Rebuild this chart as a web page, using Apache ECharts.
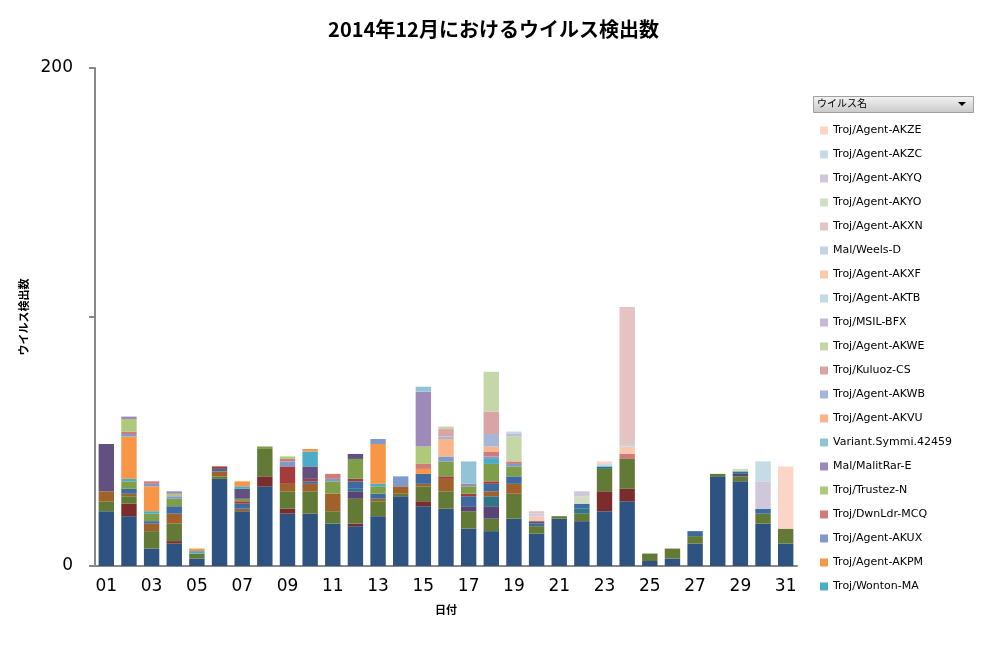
<!DOCTYPE html>
<html>
<head>
<meta charset="utf-8">
<script src="https://cdn.jsdelivr.net/npm/echarts@6/dist/echarts.min.js"></script>
<style>
  body { margin: 0; background: #fff; }
  #chart { width: 987px; height: 648px; }
</style>
</head>
<body>
<div id="chart"></div>
<script>
// 日付
const days = ['01','02','03','04','05','06','07','08','09','10','11','12','13','14','15','16',
              '17','18','19','20','21','22','23','24','25','26','27','28','29','30','31'];

// 凡例に出ない下位のウイルス (スタック下から)
const b1  = [22,20,7,9,3,35,22,32,21,21,17,16,20,28,24,23,15,14,19,13,19,18,22,26,2,3,9,36,34,17,9];
const b2  = [0,5,0,1,0,0,0,4,2,0,0,1,0,0,2,0,0,0,0,0,0,0,8,5,0,0,0,0,0,0,0];
const b3  = [4,3,7,7,2,1,0,11,7,9,5,10,6,1,6,7,7,5,10,3,1,3,9,12,3,4,3,1,2,4,6];
const b4  = [0,0,0,0,0,0,0,0,0,0,0,3,0,0,0,0,2,5,0,0,0,0,0,0,0,0,0,0,1,0,0];
const b5  = [0,0,0,0,0,0,0,0,0,0,0,1,0,0,0,0,0,4,0,0,0,2,1,0,0,0,0,0,1,0,0];
const b6  = [4,1,3,4,0,2,1,0,3,3,7,0,1,3,1,5,0,2,4,0,0,0,0,0,0,0,0,0,0,0,0];
const b7  = [0,2,1,3,0,1,2,0,0,1,0,3,2,0,4,0,4,3,3,1,0,2,0,0,0,0,2,0,0,2,0];
const b8  = [0,0,0,0,0,1,1,0,7,1,0,1,0,0,0,1,1,1,0,0,0,0,0,0,0,0,0,0,0,0,0];
const b9  = [0,3,3,3,0,0,1,1,0,0,5,8,3,0,0,6,3,7,4,0,0,0,0,0,0,0,0,0,0,0,0];
const b10 = [19,0,0,0,0,0,4,0,0,5,0,2,0,0,0,0,0,0,0,1,0,0,0,0,0,0,0,0,0,0,0];

// 凡例のウイルス (スタック下から)
const wontonMA   = [0,1,1,0,1,0,1,0,0,6,0,0,1,0,0,0,0,2,0,0,0,0,0,0,0,0,0,0,0,0,0];
const akpm       = [0,17,10,0,1,0,2,0,0,1,0,0,16,0,2,0,0,0,0,0,0,0,0,0,0,0,0,0,0,0,0];
const akux       = [0,1,1,1,0,0,0,0,2,0,1,0,2,4,0,2,0,1,1,0,0,0,0,0,0,0,0,0,0,0,0];
const dwnldrMCQ  = [0,1,1,0,0,0,0,0,1,0,2,0,0,0,2,0,0,2,1,0,0,0,0,2,0,0,0,0,0,0,0];
const trustezN   = [0,5,0,1,0,0,0,0,1,0,0,0,0,0,7,0,0,0,0,0,0,0,0,0,0,0,0,0,0,0,0];
const malitRarE  = [0,1,0,1,0,0,0,0,0,0,0,0,0,0,22,0,1,0,0,0,0,0,0,0,0,0,0,0,0,0,0];
const variant    = [0,0,0,0,0,0,0,0,0,0,0,0,0,0,2,0,9,0,0,0,0,0,0,0,0,0,0,0,0,0,0];
const akvu       = [0,0,0,0,0,0,0,0,0,0,0,0,0,0,0,7,0,2,0,0,0,0,0,0,0,0,0,0,0,0,0];
const akwb       = [0,0,0,0,0,0,0,0,0,0,0,0,0,0,0,1,0,5,0,0,0,0,0,0,0,0,0,0,0,0,0];
const kuluozCS   = [0,0,0,0,0,0,0,0,0,0,0,0,0,0,0,3,0,9,0,0,0,0,0,0,0,0,0,0,0,0,0];
const akwe       = [0,0,0,0,0,0,0,0,0,0,0,0,0,0,0,1,0,16,10,0,0,0,0,0,0,0,0,0,0,0,0];
const msilBFX    = [0,0,0,0,0,0,0,0,0,0,0,0,0,0,0,0,0,0,1,0,0,0,0,0,0,0,0,0,0,0,0];
const aktb       = [0,0,0,0,0,0,0,0,0,0,0,0,0,0,0,0,0,0,1,0,0,0,0,0,0,0,0,0,0,0,0];
const akxf       = [0,0,0,0,0,0,0,0,0,0,0,0,0,0,0,0,0,0,0,2,0,0,0,3,0,0,0,0,0,0,0];
const weelsD     = [0,0,0,0,0,0,0,0,0,0,0,0,0,0,0,0,0,0,0,1,0,0,0,1,0,0,0,0,0,0,0];
const akxn       = [0,0,0,0,0,0,0,0,0,0,0,0,0,0,0,0,0,0,0,1,0,0,0,55,0,0,0,0,0,0,0];
const akyo       = [0,0,0,0,0,0,0,0,0,0,0,3,0,0,0,0,0,0,0,0,0,3,0,0,0,0,0,0,1,0,0].map((v, i) => i === 11 ? 0 : v);
const akyq       = [0,0,0,0,0,0,0,0,0,0,0,0,0,0,0,0,0,0,0,0,0,2,0,0,0,0,0,0,0,11,0];
const akzc       = [0,0,0,0,0,0,0,0,0,0,0,0,0,0,0,0,0,0,0,0,0,0,1,0,0,0,0,0,0,8,0];
const akze       = [0,0,0,0,0,0,0,0,0,0,0,0,0,0,0,0,0,0,0,0,0,0,1,0,0,0,0,0,0,0,25];

const layers = [
  ['Troj/Agent-B01', b1, '#2F5380'],
  ['Troj/Agent-B02', b2, '#7B2C2C'],
  ['Troj/Agent-B03', b3, '#637A37'],
  ['Troj/Agent-B04', b4, '#584475'],
  ['Troj/Agent-B05', b5, '#2E7688'],
  ['Troj/Agent-B06', b6, '#A0622A'],
  ['Troj/Agent-B07', b7, '#3D6AA0'],
  ['Troj/Agent-B08', b8, '#A33C3C'],
  ['Troj/Agent-B09', b9, '#7F9E48'],
  ['Troj/Agent-B10', b10, '#62507F'],
  ['Troj/Wonton-MA', wontonMA, '#4BACC6'],
  ['Troj/Agent-AKPM', akpm, '#F79646'],
  ['Troj/Agent-AKUX', akux, '#7E9ACB'],
  ['Troj/DwnLdr-MCQ', dwnldrMCQ, '#CF7B79'],
  ['Troj/Trustez-N', trustezN, '#AFC97A'],
  ['Mal/MalitRar-E', malitRarE, '#9E8AB8'],
  ['Variant.Symmi.42459', variant, '#93C4D6'],
  ['Troj/Agent-AKVU', akvu, '#F9B48A'],
  ['Troj/Agent-AKWB', akwb, '#A5B6D8'],
  ['Troj/Kuluoz-CS', kuluozCS, '#D9A5A4'],
  ['Troj/Agent-AKWE', akwe, '#C5D6A9'],
  ['Troj/MSIL-BFX', msilBFX, '#C4BBD5'],
  ['Troj/Agent-AKTB', aktb, '#BEDBE6'],
  ['Troj/Agent-AKXF', akxf, '#FBC8AE'],
  ['Mal/Weels-D', weelsD, '#C7D1E8'],
  ['Troj/Agent-AKXN', akxn, '#E4C3C2'],
  ['Troj/Agent-AKYO', akyo, '#D2DEC0'],
  ['Troj/Agent-AKYQ', akyq, '#CEC8DA'],
  ['Troj/Agent-AKZC', akzc, '#C3DCE6'],
  ['Troj/Agent-AKZE', akze, '#FBD5C5']
];
const legendNames = layers.slice(10).map(l => l[0]).reverse();

const chart = echarts.init(document.getElementById('chart'));
chart.setOption({
  animation: false,
  textStyle: { fontFamily: 'Noto Sans CJK JP' },
  title: {
    text: '2014年12月におけるウイルス検出数',
    left: 'center', top: 14,
    textStyle: { fontSize: 20, fontWeight: 'bold', color: '#000' }
  },
  legend: {
    data: legendNames,
    orient: 'vertical',
    left: 815, top: 120,
    itemWidth: 8, itemHeight: 8, itemGap: 13,
    icon: 'rect',
    selectedMode: false,
    textStyle: { fontFamily: 'DejaVu Sans', fontSize: 11, color: '#000' }
  },
  graphic: [
    { type: 'rect', left: 813, top: 96, shape: { width: 160, height: 16 },
      style: { fill: new echarts.graphic.LinearGradient(0, 0, 0, 1, [
        { offset: 0, color: '#f4f4f4' }, { offset: 1, color: '#c8c8c8' }]), stroke: '#a0a0a0' } },
    { type: 'text', left: 817, top: 98, style: { text: 'ウイルス名', fontSize: 10, fill: '#000', fontFamily: 'Noto Sans CJK JP' } },
    { type: 'polygon', shape: { points: [[958, 102], [966, 102], [962, 106]] }, style: { fill: '#000' } }
  ],
  grid: { left: 95, right: 190, top: 68, bottom: 82 },
  xAxis: {
    type: 'category', data: days,
    name: '日付', nameLocation: 'middle', nameGap: 38,
    nameTextStyle: { fontWeight: 'bold', fontSize: 11, color: '#000' },
    axisLine: { lineStyle: { color: '#888', width: 2 } },
    axisTick: { lineStyle: { color: '#888', width: 2 }, length: 6 },
    axisLabel: { interval: 1, fontSize: 17, color: '#000', fontFamily: 'DejaVu Sans', margin: 12 }
  },
  yAxis: {
    type: 'value', min: 0, max: 200, interval: 100,
    name: 'ウイルス検出数', nameLocation: 'middle', nameGap: 60,
    nameTextStyle: { fontWeight: 'bold', fontSize: 11, color: '#000' },
    axisLine: { show: true, lineStyle: { color: '#888', width: 2 } },
    axisTick: { show: true, lineStyle: { color: '#888', width: 2 }, length: 6 },
    splitLine: { show: false },
    axisLabel: {
      fontSize: 17, color: '#000', fontFamily: 'DejaVu Sans', margin: 22,
      formatter: v => (v === 100 ? '' : v)
    }
  },
  series: layers.map(l => ({
    name: l[0], type: 'bar', stack: 'total', data: l[1],
    barCategoryGap: '32%',
    itemStyle: { color: l[2] }
  }))
});
</script>
</body>
</html>
